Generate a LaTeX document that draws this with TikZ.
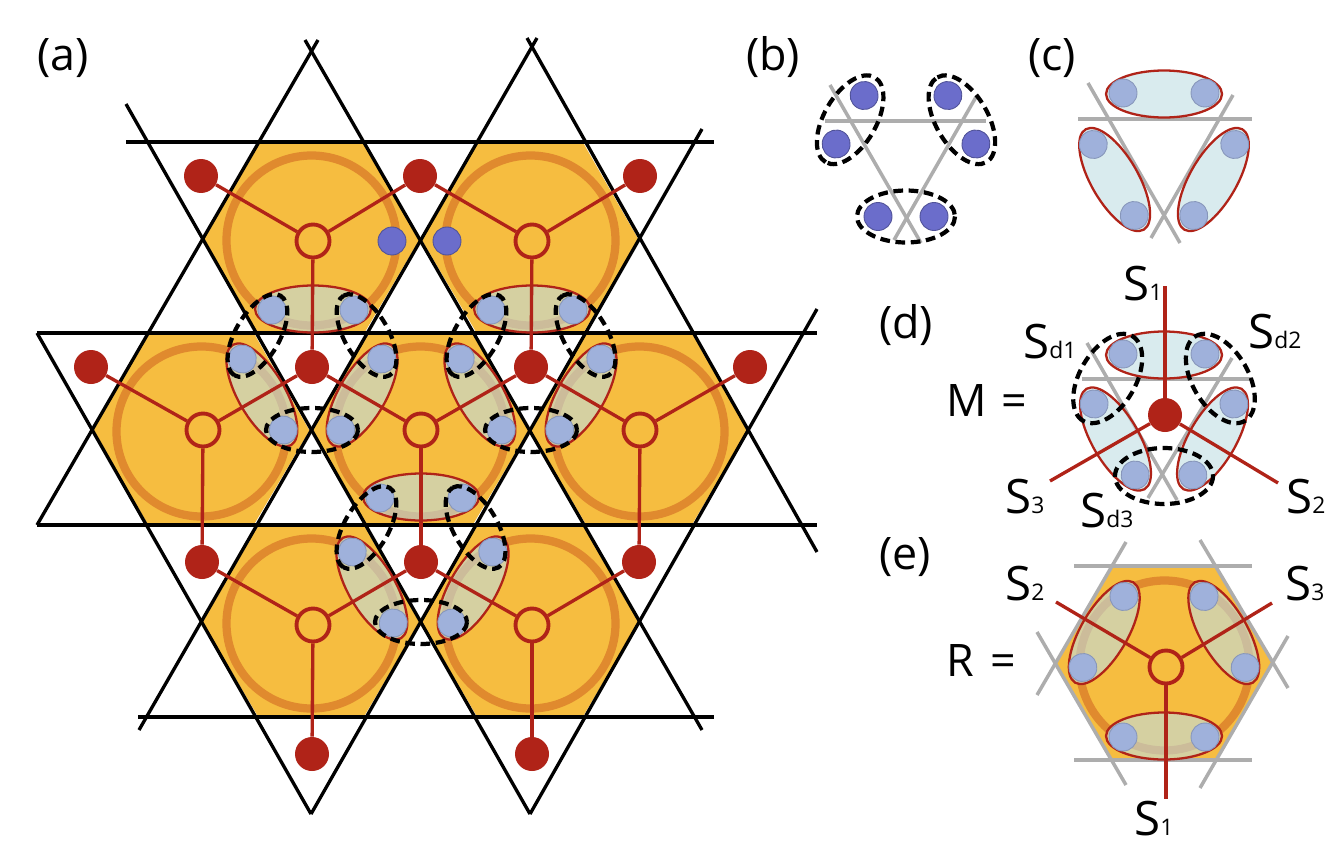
\documentclass[tikz,border=0pt]{standalone}
\usepackage{fontspec}
\setmainfont{Open Sans}
\definecolor{hexorange}{HTML}{F6BD40}
\definecolor{ringorange}{HTML}{E08A2E}
\definecolor{sitered}{HTML}{B02318}
\definecolor{pairtint}{HTML}{C0DEE3}
\definecolor{dotlight}{HTML}{9FB1DB}
\definecolor{dotdark}{HTML}{6B6DCB}
\newcommand{\Slab}[1]{S{\fontsize{13}{13}\selectfont #1}}

\begin{document}
\begin{tikzpicture}[x=0.02cm, y=-0.02cm,
    latline/.style={black, line width=1.9pt},
    greyline/.style={black!32, line width=2pt},
    redline/.style={sitered, line width=1.9pt},
    rsite/.style={circle, draw=sitered, fill=hexorange, line width=2.2pt, minimum size=0.66cm, inner sep=0pt},
    msite/.style={circle, fill=sitered, minimum size=0.68cm, inner sep=0pt},
    panel/.style={font=\fontsize{25.5}{25.5}\selectfont, anchor=base west},
    slabel/.style={font=\fontsize{27}{27}\selectfont, anchor=base west},
    dotlt/.style={fill=dotlight, draw=dotlight!85!black, line width=0.5pt},
    dotdk/.style={fill=dotdark, draw=dotdark!75!black, line width=0.5pt},
    pics/hexcell/.style={code={
      \fill[hexorange] (-108.5,1.5) -- (-53,-95.5) -- (53,-95.5) -- (108.5,1.5) -- (53,95.5) -- (-53,95.5) -- cycle;
      \draw[ringorange, line width=4.7pt] (0.5,2.5) circle (85);
    }},
    pics/pair/.style={code={
      \draw[sitered, line width=1.3pt, fill=pairtint, fill opacity=0.6] (0,#1) ellipse [x radius=58, y radius=23.5];
      \draw[dotlt] (-41,#1+1) circle (14);
      \draw[dotlt] (41,#1+1) circle (14);
    }},
    pics/dashpair/.style args={#1/#2/#3}{code={
      \draw[black, line width=2.4pt, dash pattern=on 5.5pt off 3.2pt] (0,#1) ellipse [x radius=#2, y radius=#3];
    }}]
  \useasboundingbox (0,0) rectangle (1344,852);
  % ---------------- (a) lattice ----------------
  \foreach \x/\y in {311/238, 530/238, 201/429, 420/429, 639/429, 311/621, 530/621}
    \pic at (\x,\y) {hexcell};
  \foreach \xa/\ya/\xb/\yb in {126/142/714/142, 37/333/817/333, 37/525/817/525, 138/717/714/717,
      37/525/318/40, 37/333/311/814, 126/104/530/814, 305/40/702/730,
      527/38/817/552, 537/38/139/730, 702/129/311/814, 817/309/530/814}
    \draw[latline] (\xa,\ya) -- (\xb,\yb);
  % bonds of the hexagons
  \foreach \x/\y/\a in {313/241/0, 532/241/0, 203/429/120, 421/429/0, 421/429/120, 421/429/-120,
      640/429/-120, 313/622/120, 532/622/-120}
    \pic[rotate=\a] at (\x,\y) {pair=68};
  % sites
  \foreach \n/\x/\y in {a/313/241, b/532/241, c/203/430, d/421/430, e/640/430, f/313/625, g/532/625}
    \node[rsite] (R\n) at (\x,\y) {};
  \foreach \n/\x/\y in {a/201/176, b/420/176, c/640/176, d/91/367, e/312/367, f/531/367, g/750/367,
      h/202/562, i/421/562, j/639/562, k/312/754, l/532/754}
    \node[msite] (M\n) at (\x,\y) {};
  \foreach \r/\m in {a/a, a/b, a/e, b/b, b/c, b/f, c/d, c/e, c/h, d/e, d/f, d/i, e/f, e/g, e/j,
      f/h, f/i, f/k, g/i, g/j, g/l}
    \draw[redline] (R\r) -- (M\m);
  \foreach \x/\y in {312/367, 531/367, 421/559}
    \foreach \a in {0,120,-120}
      \pic[rotate=\a] at (\x,\y) {dashpair=63/46/22};
  \draw[dotdk] (392,241) circle (14);
  \draw[dotdk] (447,241) circle (14);
  % ---------------- (b) ----------------
  \foreach \xa/\ya/\xb/\yb in {825/121/986/121, 830/85/921/243, 976/97/894/240}
    \draw[greyline] (\xa,\ya) -- (\xb,\yb);
  \foreach \a in {0,120,-120} {
    \draw[dotdk, rotate around={\a:(906,152)}] (878,216.5) circle (14);
    \draw[dotdk, rotate around={\a:(906,152)}] (934,216.5) circle (14);
    \pic[rotate=\a] at (906,152) {dashpair=64.5/49/26};
  }
  % ---------------- (c) ----------------
  \foreach \xa/\ya/\xb/\yb in {1078/119/1252/119, 1088/83/1180/243, 1233/95/1151/238}
    \draw[greyline] (\xa,\ya) -- (\xb,\yb);
  \foreach \a in {180,60,-60}
    \pic[rotate=\a] at (1164,151) {pair=57};
  % ---------------- (d) ----------------
  \foreach \xa/\ya/\xb/\yb in {1082/379/1252/379, 1087/343/1177/500, 1232/358/1148/498}
    \draw[greyline] (\xa,\ya) -- (\xb,\yb);
  \foreach \a in {180,60,-60}
    \pic[rotate=\a] at (1164,411) {pair=56};
  \foreach \a in {0,120,-120}
    \pic[rotate=\a] at (1164,411) {dashpair=65/49/28};
  \node[msite] (Md) at (1165,415) {};
  \coordinate (Md1) at (1165,286);
  \coordinate (Md2) at (1278,483);
  \coordinate (Md3) at (1050,481);
  \foreach \e in {Md1,Md2,Md3} \draw[redline] (Md) -- (\e);
  % ---------------- (e) ----------------
  \pic at (1164,663) {hexcell};
  \foreach \xa/\ya/\xb/\yb in {1074/566/1252/566, 1074/760/1252/760, 1126/542/1037/695, 1037/632/1126/785,
      1200/540/1288/688, 1288/636/1200/788}
    \draw[greyline] (\xa,\ya) -- (\xb,\yb);
  \foreach \a in {0,120,-120}
    \pic[rotate=\a] at (1164,667) {pair=69};
  \node[rsite] (Re) at (1166,667) {};
  \coordinate (Re1) at (1166,799);
  \coordinate (Re2) at (1056,602);
  \coordinate (Re3) at (1272,603);
  \foreach \e in {Re1,Re2,Re3} \draw[redline] (Re) -- (\e);
  % ---------------- labels ----------------
  \node[panel] (la) at (31,70) {(a)};
  \node[panel] (lb) at (740,70) {(b)};
  \node[panel] (lc) at (1022,70) {(c)};
  \node[panel] (ld) at (873,338) {(d)};
  \node[panel] (le) at (873,569) {(e)};
  \node[panel] (lM) at (940,416) {M};
  \node[panel] (lMeq) at (995,416) {=};
  \node[panel] (lR) at (940,676) {R};
  \node[panel] (lReq) at (984,676) {=};
  \node[slabel] (d1) at (1117,300) {\Slab{1}};
  \node[slabel] (dd1) at (1017,358) {\Slab{d1}};
  \node[slabel] (dd2) at (1242,348) {\Slab{d2}};
  \node[slabel] (dd3) at (1074,527) {\Slab{d3}};
  \node[slabel] (d3) at (999,513) {\Slab{3}};
  \node[slabel] (d2) at (1280,513) {\Slab{2}};
  \node[slabel] (e2) at (999,600) {\Slab{2}};
  \node[slabel] (e3) at (1279,600) {\Slab{3}};
  \node[slabel] (e1) at (1128,835) {\Slab{1}};
\end{tikzpicture}
\end{document}
